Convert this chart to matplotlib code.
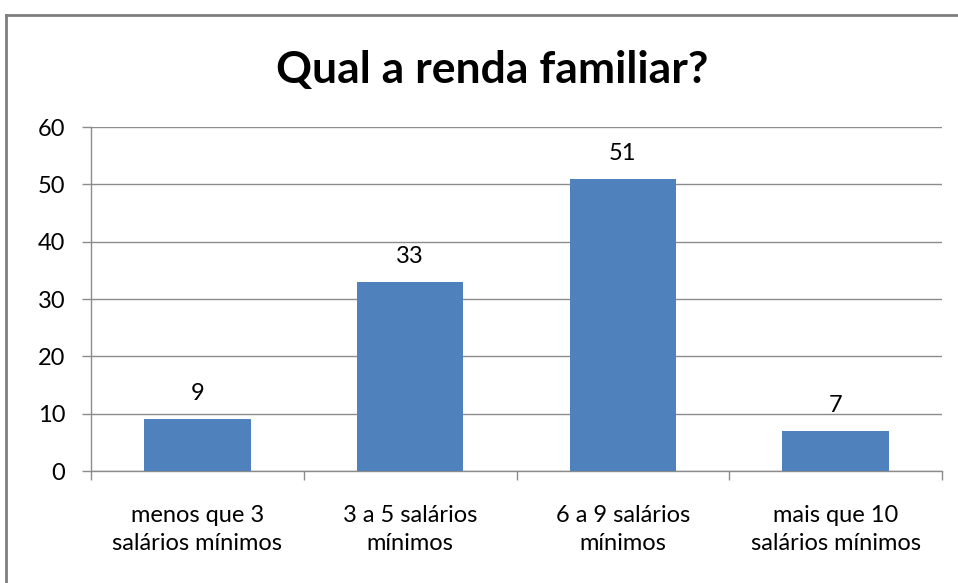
import matplotlib
matplotlib.use("Agg")
import matplotlib.pyplot as plt
from matplotlib.lines import Line2D

categories = ["menos que 3\nsalários mínimos", "3 a 5 salários\nmínimos",
              "6 a 9 salários\nmínimos", "mais que 10\nsalários mínimos"]
values = [9, 33, 51, 7]
yticks = [0, 10, 20, 30, 40, 50, 60]
title = "Qual a renda familiar?"

W, H = 958, 583
fig = plt.figure(figsize=(W / 100, H / 100), dpi=100)
fig.patch.set_facecolor("white")

fam = ["Lato", "DejaVu Sans"]
ax = fig.add_axes([91 / W, (H - 471) / H, (942 - 91) / W, (471 - 127) / H])

x = list(range(len(categories)))
ax.bar(x, values, width=0.5, color="#4F81BD", zorder=3)
for xi, v in zip(x, values):
    ax.text(xi, v + 2.6, str(v), ha="center", va="bottom", fontsize=17, family=fam)

ax.set_xlim(-0.5, 3.5)
ax.set_ylim(0, 60)
ax.set_yticks(yticks)
ax.set_yticklabels([str(t) for t in yticks], family=fam, fontsize=17)
ax.yaxis.grid(True, color="#8C8C8C", linewidth=1.0, zorder=0)
ax.tick_params(axis="y", length=6.5, width=1, color="#8C8C8C", pad=12)

ax.set_xticks([-0.5, 0.5, 1.5, 2.5, 3.5])
ax.set_xticklabels([])
ax.tick_params(axis="x", length=6.5, width=1, color="#8C8C8C")
for xi, lab in zip(x, categories):
    ax.text(xi, -0.098, lab, transform=ax.get_xaxis_transform(), ha="center", va="top",
            fontsize=17, family=fam, linespacing=1.4)

for s in ["top", "right"]:
    ax.spines[s].set_visible(False)
for s in ["left", "bottom"]:
    ax.spines[s].set_color("#8C8C8C")
    ax.spines[s].set_linewidth(1.0)

fig.text(492 / W, 1 - 70 / H, title, ha="center", va="center", fontsize=32,
         fontweight="bold", family=fam)

# outer chart frame
fig.add_artist(Line2D([6 / W, 6 / W], [0, 1 - 15 / H], color="#7F7F7F", linewidth=2,
                      transform=fig.transFigure))
fig.add_artist(Line2D([6 / W, 1], [1 - 15 / H, 1 - 15 / H], color="#7F7F7F", linewidth=2,
                      transform=fig.transFigure))

fig.savefig("out.png", dpi=100)
